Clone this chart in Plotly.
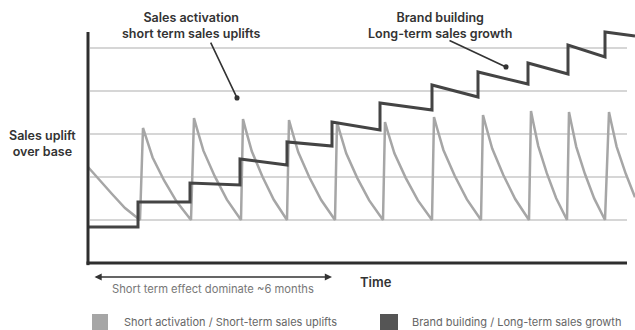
import plotly.graph_objects as go

# ---------------- data (time in arbitrary units, uplift in grid units) ----------------
grid_levels = [1, 2, 3, 4, 5]

# Short activation / short-term sales uplifts (grey saw-tooth)
activation_x = [0, 12, 24, 37, 52,
                55, 57.9, 64.6, 76.1, 88.6, 103,
                106, 108.8, 115.4, 126.7, 138.9, 153,
                155, 157.6, 163.8, 174.4, 185.8, 199,
                201, 203.8, 210.2, 221.2, 233.2, 247,
                249, 251.8, 258.2, 269.2, 281.2, 295,
                297, 299.8, 306.4, 317.7, 329.9, 344,
                346, 348.8, 355.4, 366.7, 378.9, 393,
                395, 397.8, 404.2, 415.2, 427.2, 441,
                443, 445.2, 450.2, 458.8, 468.2, 479,
                481, 483.2, 488.2, 496.8, 506.2, 517,
                521, 523.3, 528.6, 537.7, 547]
activation_y = [2.233, 1.907, 1.605, 1.279, 1.0,
                3.140, 2.926, 2.455, 1.920, 1.428, 1.0,
                3.372, 3.135, 2.613, 2.020, 1.474, 1.0,
                3.349, 3.114, 2.597, 2.010, 1.470, 1.0,
                3.326, 3.093, 2.582, 2.000, 1.465, 1.0,
                3.279, 3.051, 2.550, 1.980, 1.456, 1.0,
                3.279, 3.051, 2.550, 1.980, 1.456, 1.0,
                3.395, 3.156, 2.629, 2.030, 1.479, 1.0,
                3.442, 3.198, 2.661, 2.050, 1.488, 1.0,
                3.535, 3.282, 2.724, 2.090, 1.507, 1.0,
                3.512, 3.261, 2.708, 2.080, 1.502, 1.0,
                3.512, 3.261, 2.708, 2.080, 1.530]

# Brand building / long-term sales growth (dark stepped line)
brand_x = [0, 50, 50, 102, 102, 152, 152, 199, 199, 244, 244, 292, 292,
           344, 344, 390, 390, 440, 440, 480, 480, 517, 517, 547]
brand_y = [0.837, 0.837, 1.419, 1.419, 1.860, 1.814, 2.419, 2.279, 2.814,
           2.721, 3.279, 3.093, 3.721, 3.558, 4.140, 3.860, 4.442, 4.163,
           4.651, 4.395, 5.070, 4.791, 5.372, 5.279]

series_names = ["Short activation / Short-term sales uplifts",
                "Brand building / Long-term sales growth"]
series_colors = ["#a6a6a6", "#444444"]

FONT = "Inter"
DARK = "#333333"

fig = go.Figure()

fig.add_trace(go.Scatter(x=activation_x, y=activation_y, mode="lines",
                         line=dict(color=series_colors[0], width=2.5),
                         name=series_names[0], showlegend=False, hoverinfo="skip"))
fig.add_trace(go.Scatter(x=brand_x, y=brand_y, mode="lines",
                         line=dict(color=series_colors[1], width=3),
                         name=series_names[1], showlegend=False, hoverinfo="skip"))

shapes = []
# gridlines
for g in grid_levels:
    shapes.append(dict(type="line", xref="x", yref="y", x0=2, x1=539, y0=g, y1=g,
                       line=dict(color="#c9c9c9", width=1.6), layer="below"))
# axes
shapes.append(dict(type="line", xref="x", yref="y", x0=0, x1=0, y0=-0.05, y1=5.372,
                   line=dict(color="#2e2e2e", width=3), layer="above"))
shapes.append(dict(type="line", xref="x", yref="y", x0=-1.5, x1=539, y0=0, y1=0,
                   line=dict(color="#2e2e2e", width=3), layer="above"))
# legend squares
shapes.append(dict(type="rect", xref="x", yref="y", x0=4, x1=20, y0=-1.56, y1=-1.186,
                   line=dict(width=0), fillcolor=series_colors[0]))
shapes.append(dict(type="rect", xref="x", yref="y", x0=292, x1=310, y0=-1.56, y1=-1.186,
                   line=dict(width=0), fillcolor="#555555"))

title_font = dict(family=FONT, size=12.5, color=DARK, weight=600)


def label(x, y, text, font, xanchor="center"):
    return dict(x=x, y=y, text=text, showarrow=False, font=font,
                xanchor=xanchor, yanchor="middle")


annotations = [
    label(103, 5.512, "Sales activation<br>short term sales uplifts", title_font),
    label(352, 5.512, "Brand building<br>Long-term sales growth", title_font),
    label(-46, 2.79, "Sales uplift<br>over base", title_font),
    label(288, -0.44, "Time", dict(family=FONT, size=13, color=DARK, weight=600)),
    label(124.5, -0.605, "Short term effect dominate ~6 months",
          dict(family=FONT, size=11.2, color="#777777")),
    label(34, -1.372, series_names[0], dict(family=FONT, size=11, color="#666666"),
          xanchor="left"),
    label(322, -1.372, series_names[1], dict(family=FONT, size=11, color="#666666"),
          xanchor="left"),
    # pointer arrows with dot heads
    dict(x=149, y=3.84, ax=122, ay=5.16, xref="x", yref="y", axref="x", ayref="y",
         text="", showarrow=True, arrowhead=6, arrowsize=0.8, arrowwidth=1.6,
         arrowcolor=DARK),
    dict(x=418, y=4.56, ax=360, ay=5.19, xref="x", yref="y", axref="x", ayref="y",
         text="", showarrow=True, arrowhead=6, arrowsize=0.8, arrowwidth=1.6,
         arrowcolor=DARK),
    # double-headed time arrow
    dict(x=244, y=-0.326, ax=5, ay=-0.326, xref="x", yref="y", axref="x", ayref="y",
         text="", showarrow=True, arrowhead=2, startarrowhead=2, arrowside="end+start",
         arrowsize=0.9, arrowwidth=1.6, arrowcolor=DARK),
]

fig.update_layout(
    width=635, height=330,
    margin=dict(l=0, r=0, t=0, b=0),
    paper_bgcolor="white", plot_bgcolor="white",
    xaxis=dict(range=[-88, 547], visible=False, fixedrange=True),
    yaxis=dict(range=[-1.5581, 6.1163], visible=False, fixedrange=True),
    shapes=shapes, annotations=annotations,
    showlegend=False,
)

fig.write_html("out.html")
